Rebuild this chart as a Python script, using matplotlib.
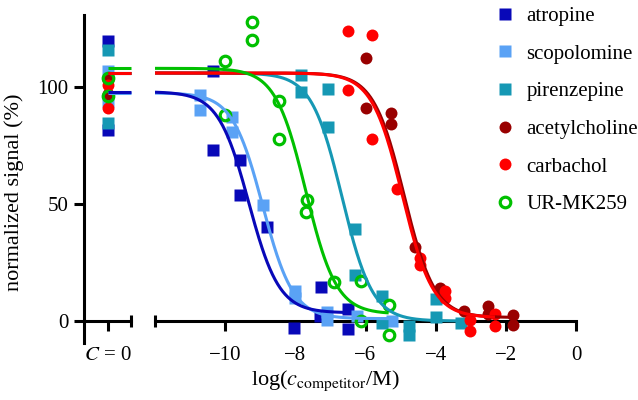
import matplotlib
matplotlib.use('Agg')
import matplotlib.pyplot as plt
import numpy as np
from matplotlib.lines import Line2D

# ---------------- data ----------------
names = ['atropine', 'scopolomine', 'pirenzepine', 'acetylcholine', 'carbachol', 'UR-MK259']

atropine_x = [-10.35, -10.35, -9.58, -9.58, -8.8, -8.05, -7.26, -7.3, -6.5, -6.5]
atropine_y = [107, 73, 69, 54, 40, -3, 14.6, 2, 5, -3.6]
atropine_c0 = [119.5, 81.7]

scopolomine_x = [-10.72, -10.72, -9.8, -9.8, -8.92, -8.0, -8.0, -7.1, -7.1, -6.25, -5.25]
scopolomine_y = [96.5, 90, 87, 81, 49.6, 13, 10, 4, 0.6, 2, 0]
scopolomine_c0 = [107, 94]

pirenzepine_x = [-7.85, -7.85, -7.07, -7.07, -6.31, -6.31, -5.53, -5.53, -4.77, -4.77, -4.0, -4.0, -3.27]
pirenzepine_y = [105, 98, 99, 83, 39.3, 19.8, 10.6, -0.8, -5.8, -2.2, 9.2, 1.5, -1]
pirenzepine_c0 = [116, 84.5]

acetylcholine_x = [-6.0, -6.0, -5.27, -5.27, -4.6, -3.87, -3.18, -2.5, -2.5, -1.79, -1.79]
acetylcholine_y = [112.5, 91, 89, 84, 31.5, 14, 4.2, 6.3, 3, 2.5, -1.5]
acetylcholine_c0 = [103, 97]

carbachol_x = [-6.5, -6.5, -5.82, -5.82, -5.1, -4.44, -4.44, -3.73, -3.73, -3.02, -3.02, -2.31, -2.31]
carbachol_y = [124, 98.6, 122.3, 78, 56.5, 27, 24, 13, 10, 0.5, -4.3, 3, -2.2]
carbachol_c0 = [91, 101]

mk259_x = [-10.0, -10.0, -9.24, -9.24, -8.47, -8.47, -7.66, -7.71, -6.9, -6.14, -6.14, -5.34, -5.34]
mk259_y = [111, 88, 128, 120, 94, 78, 51.7, 46.8, 16.5, 17, 0, 7, -6]
mk259_c0 = [104, 96]

# fitted curve parameters: top, bottom, logIC50, hill slope
atropine_fit = [98, 3.5, -9.33, 1.0]
scopolomine_fit = [97.5, 1.0, -8.93, 1.0]
pirenzepine_fit = [106, 0.0, -6.67, 1.0]
acetylcholine_fit = [106, 1.5, -4.90, 1.0]
carbachol_fit = [106, 1.5, -4.95, 1.0]
mk259_fit = [108, 3.0, -7.70, 1.0]

x_ticks = [-10, -8, -6, -4, -2, 0]
y_ticks = [0, 50, 100]

# ---------------- style ----------------
colors = ['#0808b8', '#5aa2f5', '#1698b4', '#990000', '#ff0000', '#00c000']
markers = ['s', 's', 's', 'o', 'o', 'o']

plt.rcParams['font.family'] = ['Liberation Serif', 'DejaVu Serif']
plt.rcParams['mathtext.fontset'] = 'stix'
plt.rcParams['font.size'] = 15

W, H = 638, 400
fig = plt.figure(figsize=(W / 100, H / 100), dpi=100)

def rect(x0, x1, ytop, ybot):
    return [x0 / W, 1 - ybot / H, (x1 - x0) / W, (ybot - ytop) / H]

ax1 = fig.add_axes(rect(84, 131, 15, 343))
ax2 = fig.add_axes(rect(155, 576, 15, 343))
ylim = (-9.4, 130.8)
LW = 2.2

def logistic(x, p):
    top, bot, ic, h = p
    return bot + (top - bot) / (1 + 10 ** ((x - ic) * h))

xs = [atropine_x, scopolomine_x, pirenzepine_x, acetylcholine_x, carbachol_x, mk259_x]
ys = [atropine_y, scopolomine_y, pirenzepine_y, acetylcholine_y, carbachol_y, mk259_y]
c0s = [atropine_c0, scopolomine_c0, pirenzepine_c0, acetylcholine_c0, carbachol_c0, mk259_c0]
fits = [atropine_fit, scopolomine_fit, pirenzepine_fit, acetylcholine_fit, carbachol_fit, mk259_fit]

xmin2 = -12.0
ax2.set_xlim(xmin2, 0)
ax1.set_xlim(-1.04, 1.0)
for ax in (ax1, ax2):
    ax.set_ylim(*ylim)
    ax.patch.set_alpha(0)

def mk_kwargs(i):
    if i == 5:
        return dict(marker='o', ms=7.6, mfc='none', mec=colors[i], mew=2.3, ls='none')
    if markers[i] == 's':
        return dict(marker='s', ms=8.2, mfc=colors[i], mec='none', ls='none')
    return dict(marker='o', ms=8.6, mfc=colors[i], mec='none', ls='none')

# points
for i in range(6):
    ax2.plot(xs[i], ys[i], clip_on=False, zorder=2 + i * 0.01, **mk_kwargs(i))
    ax1.plot([0] * len(c0s[i]), c0s[i], clip_on=False, zorder=2 + i * 0.01, **mk_kwargs(i))

# curves
curve_order = [1, 0, 2, 3, 4, 5]
for i in curve_order:
    xx = np.linspace(xmin2, max(xs[i]), 300)
    ax2.plot(xx, logistic(xx, fits[i]), color=colors[i], lw=LW, zorder=3, solid_capstyle='butt')
    top = fits[i][0]
    ax1.plot([0, 1.0], [top, top], color=colors[i], lw=LW, zorder=3, clip_on=False,
             solid_capstyle='butt')

# axes styling
for ax in (ax1, ax2):
    for s in ('top', 'right'):
        ax.spines[s].set_visible(False)
    ax.spines['bottom'].set_position(('data', 0))
    ax.spines['bottom'].set_linewidth(LW)
    ax.spines['bottom'].set_zorder(1)
    ax.tick_params(axis='x', direction='out', length=7, width=LW, pad=11, labelsize=15)
ax2.spines['left'].set_visible(False)
ax2.set_yticks([])
ax1.spines['left'].set_linewidth(LW)
ax1.set_yticks(y_ticks)
ax1.set_yticklabels([str(v) for v in y_ticks])
ax1.tick_params(axis='y', direction='out', length=7, width=LW, pad=4, labelsize=15)

ax1.set_xticks([0])
ax1.set_xticklabels(['$C$ = 0'])
ax2.set_xticks(x_ticks)
ax2.set_xticklabels([('\u2212' + str(-v)) if v < 0 else str(v) for v in x_ticks])

# end caps of the broken x axis
ax1.plot([1.0], [0], marker='|', ms=9, mew=LW, color='black', clip_on=False, zorder=1)
ax2.plot([xmin2], [0], marker='|', ms=9, mew=LW, color='black', clip_on=False, zorder=1)

fig.text(325 / W, 1 - 385 / H, r'log($c_{\mathrm{competitor}}$/M)', fontsize=16,
         ha='center', va='baseline')
fig.text(14 / W, 1 - 192 / H, 'normalized signal (%)', rotation=90, ha='center', va='center',
         fontsize=16)

handles = [Line2D([], [], **mk_kwargs(i)) for i in range(6)]
fig.legend(handles, names, loc='upper left', bbox_to_anchor=(488 / W, 1.0), frameon=False,
           borderaxespad=0, borderpad=0.3, handlelength=1.0, handletextpad=0.55,
           labelspacing=0.87, fontsize=15)

fig.savefig('out.png', dpi=100)
